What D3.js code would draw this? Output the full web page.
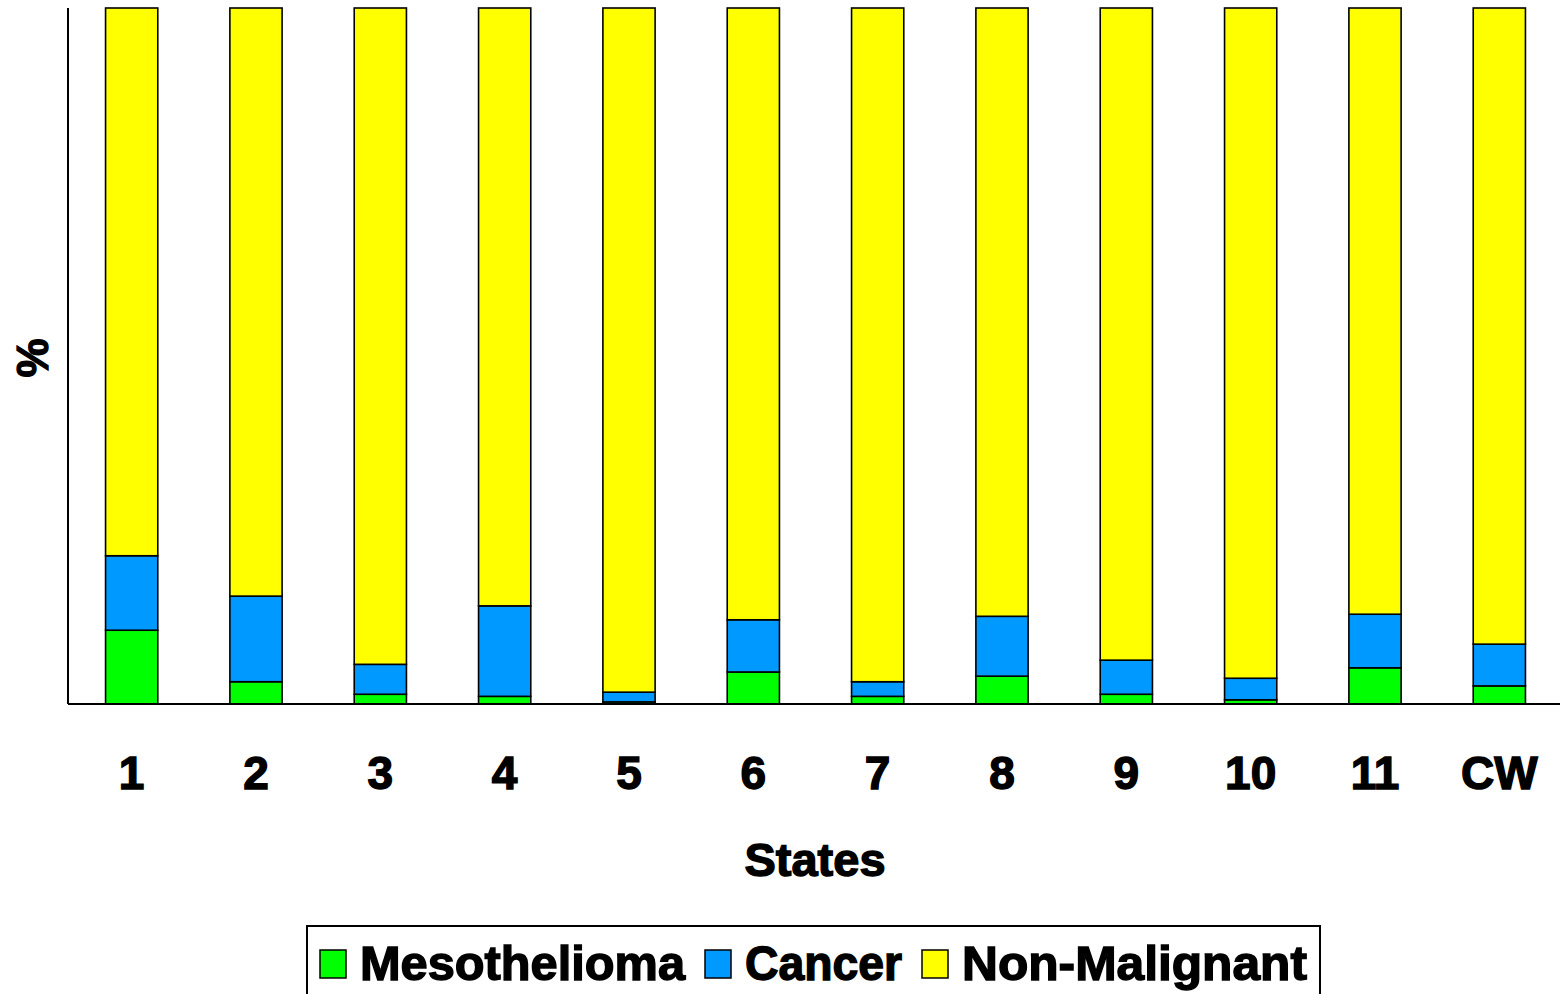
<!DOCTYPE html>
<html><head><meta charset="utf-8">
<script src="https://cdn.jsdelivr.net/npm/d3@7"></script>
<style>body{margin:0;background:#fff}svg{display:block}</style>
</head><body>
<svg id="c" width="1566" height="994"></svg>
<script>
const categories = ["1","2","3","4","5","6","7","8","9","10","11","CW"];
const mesothelioma = [10.6,3.2,1.4,1.1,0.3,4.6,1.1,4.0,1.4,0.6,5.2,2.6];
const cancer = [10.7,12.3,4.3,13.0,1.4,7.5,2.1,8.6,4.9,3.1,7.7,6.0];
const nonMalignant = categories.map((c,i)=>+(100-mesothelioma[i]-cancer[i]).toFixed(1));
const seriesNames = ["Mesothelioma","Cancer","Non-Malignant"];
const colors = ["#00FF00","#0099FF","#FFFF00"];

const rows = categories.map((c,i)=>({cat:c,"Mesothelioma":mesothelioma[i],"Cancer":cancer[i],"Non-Malignant":nonMalignant[i]}));
const svg = d3.select("#c");
const L=68,R=1560,T=8,B=704;
const x = d3.scaleBand().domain(categories).range([L+1.5,R+1.5]).paddingInner(0.58).paddingOuter(0.29);
const y = d3.scaleLinear().domain([0,100]).range([B,T]);
const stack = d3.stack().keys(seriesNames)(rows);
const font = "'Liberation Sans', Arial, sans-serif";

svg.append("g").selectAll("g").data(stack).join("g")
  .attr("fill",(d,i)=>colors[i])
  .selectAll("rect").data(d=>d).join("rect")
  .attr("x",d=>x(d.data.cat)).attr("width",x.bandwidth())
  .attr("y",d=>y(d[1])).attr("height",d=>y(d[0])-y(d[1]))
  .attr("stroke","#000").attr("stroke-width",1.6);

// axes
const ax = svg.append("g").attr("transform",`translate(0,${B})`)
  .call(d3.axisBottom(x).tickSize(0).tickPadding(52));
ax.select(".domain").attr("stroke","#000").attr("stroke-width",2).attr("d",`M${L},0H${R}`);
ax.selectAll("text").attr("font-family",font).attr("font-weight","bold").attr("font-size",46)
  .attr("fill","#000").attr("stroke","#000").attr("stroke-width",1.4);
const ay = svg.append("g").attr("transform",`translate(${L},0)`).call(d3.axisLeft(y).ticks(0).tickSize(0));
ay.select(".domain").attr("stroke","#000").attr("stroke-width",2).attr("d",`M0,${T}V${B}`);
ay.selectAll(".tick").remove();

svg.append("text").attr("x",815).attr("y",876).attr("text-anchor","middle")
  .attr("font-family",font).attr("font-weight","bold").attr("font-size",47)
  .attr("stroke","#000").attr("stroke-width",1.4).text("States");
svg.append("text").attr("transform","translate(48,358) rotate(-90)").attr("text-anchor","middle")
  .attr("font-family",font).attr("font-weight","bold").attr("font-size",44)
  .attr("stroke","#000").attr("stroke-width",1.3).text("%");

// legend
const lg = svg.append("g");
lg.append("rect").attr("x",307).attr("y",926).attr("width",1013).attr("height",80)
  .attr("fill","#fff").attr("stroke","#000").attr("stroke-width",2);
const legX = [320,705,922];
const legW = [325,157,345];
seriesNames.forEach((n,i)=>{
  lg.append("rect").attr("x",legX[i]).attr("y",950).attr("width",26).attr("height",28)
    .attr("fill",colors[i]).attr("stroke","#000").attr("stroke-width",1.5);
  lg.append("text").attr("x",legX[i]+40).attr("y",980)
    .attr("font-family",font).attr("font-weight","bold").attr("font-size",48)
    .attr("textLength",legW[i]).attr("lengthAdjust","spacingAndGlyphs")
    .attr("stroke","#000").attr("stroke-width",1.4).text(n);
});
</script>
</body></html>
